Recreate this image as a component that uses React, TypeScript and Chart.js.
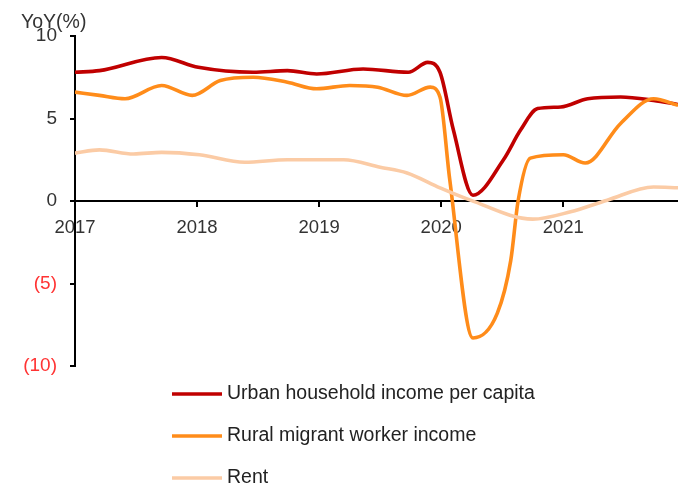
import React, { useEffect, useRef } from "react";
import { Chart, registerables } from "chart.js";

Chart.register(...registerables);

const seriesNames = ["Urban household income per capita", "Rural migrant worker income", "Rent"];
const seriesColors = ["#C00000", "#FF8C1A", "#FBCBA5"];

const urbanX = [2017.0, 2017.2, 2017.71, 2018.01, 2018.46, 2018.74, 2018.98, 2019.36, 2019.73, 2019.89, 2019.99, 2020.1, 2020.26, 2020.51, 2020.65, 2020.79, 2020.98, 2021.2, 2021.47, 2021.74, 2021.94];
const urbanY = [7.8, 7.9, 8.7, 8.1, 7.8, 7.9, 7.7, 8.0, 7.8, 8.4, 7.8, 4.3, 0.35, 2.5, 4.3, 5.6, 5.7, 6.2, 6.3, 6.1, 5.85];

const ruralX = [2017.0, 2017.2, 2017.41, 2017.71, 2017.96, 2018.19, 2018.46, 2018.74, 2018.98, 2019.25, 2019.48, 2019.72, 2019.91, 2019.99, 2020.07, 2020.26, 2020.46, 2020.57, 2020.63, 2020.73, 2021.0, 2021.18, 2021.47, 2021.74, 2021.94];
const ruralY = [6.6, 6.4, 6.2, 7.0, 6.4, 7.3, 7.5, 7.2, 6.8, 7.0, 6.9, 6.4, 6.9, 6.3, 1.3, -8.3, -6.8, -3.6, 0.0, 2.6, 2.8, 2.3, 4.7, 6.2, 5.8];

const rentX = [2017.0, 2017.2, 2017.48, 2017.71, 2018.02, 2018.39, 2018.74, 2019.2, 2019.5, 2019.72, 2019.99, 2020.24, 2020.75, 2021.06, 2021.36, 2021.74, 2021.94];
const rentY = [2.9, 3.1, 2.85, 2.95, 2.8, 2.35, 2.5, 2.5, 2.05, 1.7, 0.8, 0.05, -1.1, -0.65, 0.05, 0.85, 0.8];

const yearTicks = [2017, 2018, 2019, 2020, 2021];
const xMin = 2017;
const xMax = 2021.94;
const yTicks = [-10, -5, 0, 5, 10];
const yTitle = "YoY(%)";

const FONT = "'Liberation Sans', Arial, sans-serif";

function toPoints(xs: number[], ys: number[]) {
  return xs.map((x, i) => ({ x, y: ys[i] }));
}

export default function App() {
  const ref = useRef<HTMLCanvasElement | null>(null);
  useEffect(() => {
    if (!ref.current) return;
    const overlay = {
      id: "overlay",
      afterDraw(chart: any) {
        const ctx = chart.ctx;
        ctx.save();
        ctx.font = `19.5px ${FONT}`;
        ctx.fillStyle = "#333";
        ctx.textBaseline = "alphabetic";
        ctx.textAlign = "left";
        ctx.fillText(yTitle, 21, 28);
        seriesNames.forEach((name, i) => {
          const y = 394 + i * 42;
          ctx.strokeStyle = seriesColors[i];
          ctx.lineWidth = 3.5;
          ctx.beginPath();
          ctx.moveTo(172, y);
          ctx.lineTo(222, y);
          ctx.stroke();
          ctx.fillStyle = "#222";
          ctx.textBaseline = "middle";
          ctx.fillText(name, 227, y);
        });
        ctx.restore();
      },
    };
    const chart = new Chart(ref.current, {
      type: "line",
      data: {
        datasets: [
          { label: seriesNames[0], data: toPoints(urbanX, urbanY), borderColor: seriesColors[0] },
          { label: seriesNames[1], data: toPoints(ruralX, ruralY), borderColor: seriesColors[1] },
          { label: seriesNames[2], data: toPoints(rentX, rentY), borderColor: seriesColors[2] },
        ].reverse().map((d) => ({ ...d, borderWidth: 3.6, pointRadius: 0, fill: false, cubicInterpolationMode: "monotone" as const })),
      },
      options: {
        animation: false,
        responsive: false,
        maintainAspectRatio: false,
        layout: { padding: { top: 36, bottom: 121, left: 0, right: 0 } },
        plugins: { legend: { display: false }, tooltip: { enabled: false } },
        scales: {
          x: {
            type: "linear",
            min: xMin,
            max: xMax,
            position: { y: 0 } as any,
            afterBuildTicks: (s: any) => {
              s.ticks = yearTicks.map((v) => ({ value: v }));
            },
            grid: { display: true, drawOnChartArea: false, drawTicks: true, tickLength: 5, color: "#000", lineWidth: 2 },
            border: { display: true, color: "#000", width: 2 },
            ticks: {
              color: "#333",
              font: { family: FONT, size: 18.5 },
              padding: 11,
              maxRotation: 0,
              autoSkip: false,
              callback: (v: any) => String(v),
            },
          },
          y: {
            min: -10,
            max: 10,
            afterBuildTicks: (s: any) => {
              s.ticks = yTicks.map((v) => ({ value: v }));
            },
            afterFit: (s: any) => {
              s.width = 75;
            },
            grid: { display: true, drawOnChartArea: false, drawTicks: true, tickLength: 5, color: "#000", lineWidth: 2 },
            border: { display: true, color: "#000", width: 2 },
            ticks: {
              font: { family: FONT, size: 19 },
              padding: 13,
              color: (c: any) => (c.tick && c.tick.value < 0 ? "#FF3333" : "#333"),
              callback: (v: any) => (Number(v) < 0 ? `(${-Number(v)})` : String(v)),
            },
          },
        },
      },
      plugins: [overlay],
    });
    return () => chart.destroy();
  }, []);
  return (
    <div style={{ position: "fixed", left: 0, top: 0, width: 678, height: 487, background: "#fff" }}>
      <canvas ref={ref} width={678} height={487} style={{ display: "block", width: 678, height: 487 }} />
    </div>
  );
}
